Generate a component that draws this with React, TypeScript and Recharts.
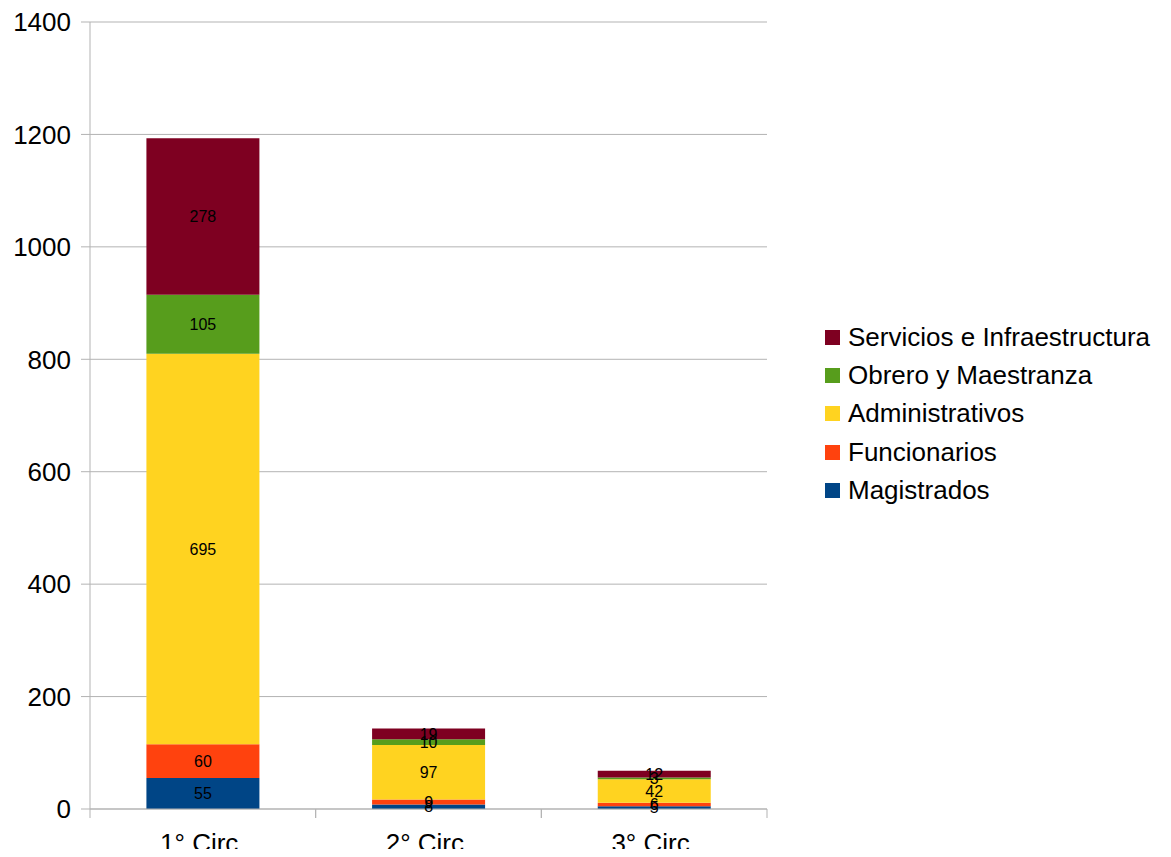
import { Bar, BarChart, CartesianGrid, LabelList, XAxis, YAxis } from "recharts";

const categories = ["1° Circ.", "2° Circ.", "3° Circ."];
const magistrados = [55, 8, 5];
const funcionarios = [60, 9, 6];
const administrativos = [695, 97, 42];
const obrero = [105, 10, 3];
const servicios = [278, 19, 12];
const yTicks = [0, 200, 400, 600, 800, 1000, 1200, 1400];

const SERIES = [
  { key: "mag", name: "Magistrados", color: "#004586" },
  { key: "fun", name: "Funcionarios", color: "#ff420e" },
  { key: "adm", name: "Administrativos", color: "#ffd320" },
  { key: "obr", name: "Obrero y Maestranza", color: "#579d1c" },
  { key: "ser", name: "Servicios e Infraestructura", color: "#7e0021" },
];

const data = categories.map((name, i) => ({
  name,
  mag: magistrados[i],
  fun: funcionarios[i],
  adm: administrativos[i],
  obr: obrero[i],
  ser: servicios[i],
}));

const FONT = "'Liberation Sans', Arial, sans-serif";
const GRID = "#b3b3b3";
const PLOT_W = 677;
const BAND = PLOT_W / categories.length;

function XTick(props: any) {
  const { x, y, payload } = props;
  return (
    <g>
      <line x1={x - BAND / 2} x2={x - BAND / 2} y1={y - 8} y2={y + 1} stroke={GRID} />
      <line x1={x + BAND / 2} x2={x + BAND / 2} y1={y - 8} y2={y + 1} stroke={GRID} />
      <text x={x} y={y + 35} textAnchor="middle" fontSize={26} fill="#000" fontFamily={FONT}>
        {payload.value}
      </text>
    </g>
  );
}

function LegendBox() {
  const items = [...SERIES].reverse();
  return (
    <div style={{ position: "absolute", left: 825, top: 318, fontFamily: FONT, fontSize: 26 }}>
      {items.map((s) => (
        <div key={s.key} style={{ display: "flex", alignItems: "center", height: 38.4, whiteSpace: "nowrap" }}>
          <span style={{ width: 15, height: 15, background: s.color, marginRight: 8, display: "inline-block" }} />
          <span style={{ color: "#000" }}>{s.name}</span>
        </div>
      ))}
    </div>
  );
}

export default function App() {
  return (
    <div style={{ margin: -8, background: "#fff", position: "relative", width: 1171, height: 857 }}>
      <BarChart
        width={1171}
        height={857}
        data={data}
        barCategoryGap="25%"
        margin={{ top: 22, right: 404, left: 0, bottom: 0 }}
      >
        <CartesianGrid vertical={false} stroke={GRID} />
        <XAxis
          dataKey="name"
          tick={<XTick />}
          tickLine={false}
          axisLine={{ stroke: GRID }}
          interval={0}
          height={48}
        />
        <YAxis
          domain={[0, 1400]}
          ticks={yTicks}
          width={90}
          tick={{ fontSize: 26, fill: "#000", fontFamily: FONT }}
          tickLine={{ stroke: GRID }}
          tickSize={9}
          tickMargin={10}
          axisLine={{ stroke: GRID }}
          interval={0}
        />
        {SERIES.map((s) => (
          <Bar key={s.key} dataKey={s.key} name={s.name} stackId="a" fill={s.color} isAnimationActive={false}>
            <LabelList dataKey={s.key} position="center" fill="#000" fontSize={16} fontFamily={FONT} />
          </Bar>
        ))}
      </BarChart>
      <LegendBox />
    </div>
  );
}
